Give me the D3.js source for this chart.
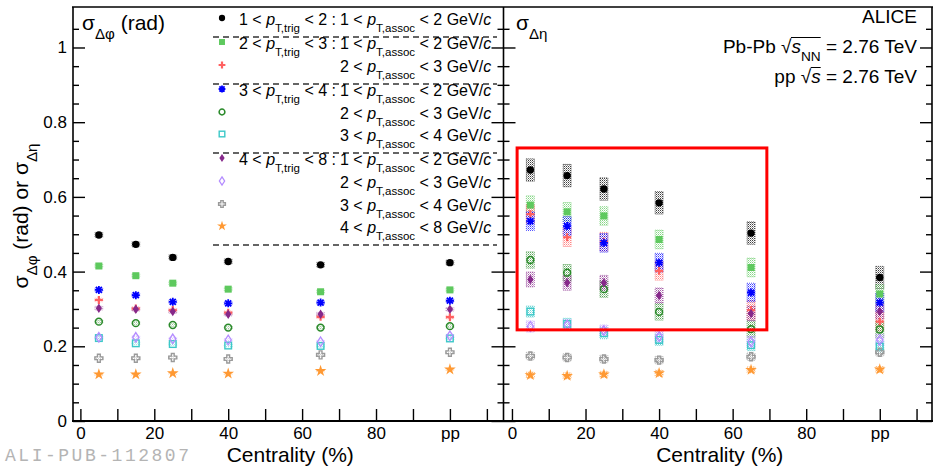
<!DOCTYPE html>
<html>
<head>
<meta charset="utf-8">
<script src="https://cdn.jsdelivr.net/npm/d3@7"></script>
<style>
  body { margin: 0; background: #fff; }
  svg { display: block; }
  text { font-family: "Liberation Sans", Arial, Helvetica, sans-serif; white-space: pre; }
</style>
</head>
<body>
<svg id="chart" width="933" height="467"></svg>
<script>
// ---- data -------------------------------------------------------------
// centrality bin centres (%); the pp reference is placed at 100
const centrality = [5, 15, 25, 40, 65, 100];
const xTickValues = [0, 10, 20, 30, 40, 50, 60, 70, 80, 90, 100, 110];
const xTickLabels = { 0: "0", 20: "20", 40: "40", 60: "60", 80: "80", 100: "pp" };
const yTickValues = [0, 0.2, 0.4, 0.6, 0.8, 1];
const yTickLabels = ["0", "0.2", "0.4", "0.6", "0.8", "1"];

// pT bins (GeV/c) of each series, in legend order
const trigBins  = [[1, 2], [2, 3], [2, 3], [3, 4], [3, 4], [3, 4], [4, 8], [4, 8], [4, 8], [4, 8]];
const assocBins = [[1, 2], [1, 2], [2, 3], [1, 2], [2, 3], [3, 4], [1, 2], [2, 3], [3, 4], [4, 8]];

// sigma_dphi (rad), one row per series, columns follow `centrality`
const sigmaDphi = [
  [0.498, 0.473, 0.438, 0.427, 0.418, 0.424],
  [0.415, 0.389, 0.369, 0.353, 0.346, 0.351],
  [0.324, 0.301, 0.297, 0.290, 0.279, 0.278],
  [0.351, 0.337, 0.319, 0.315, 0.317, 0.322],
  [0.266, 0.262, 0.257, 0.250, 0.250, 0.254],
  [0.222, 0.208, 0.206, 0.202, 0.201, 0.221],
  [0.302, 0.299, 0.293, 0.286, 0.286, 0.299],
  [0.224, 0.224, 0.220, 0.217, 0.212, 0.228],
  [0.168, 0.168, 0.170, 0.166, 0.177, 0.184],
  [0.125, 0.125, 0.128, 0.127, 0.134, 0.138]
];
// sigma_deta
const sigmaDeta = [
  [0.672, 0.657, 0.621, 0.584, 0.503, 0.384],
  [0.578, 0.560, 0.549, 0.486, 0.411, 0.340],
  [0.554, 0.492, 0.480, 0.402, 0.297, 0.266],
  [0.535, 0.522, 0.477, 0.424, 0.344, 0.317],
  [0.431, 0.397, 0.353, 0.292, 0.246, 0.245],
  [0.293, 0.260, 0.235, 0.217, 0.203, 0.199],
  [0.379, 0.370, 0.370, 0.336, 0.288, 0.293],
  [0.253, 0.257, 0.242, 0.226, 0.212, 0.217],
  [0.174, 0.170, 0.166, 0.163, 0.172, 0.184],
  [0.123, 0.121, 0.125, 0.128, 0.137, 0.138]
];
// systematic uncertainty (half height) per series
const sysDphi = [0.007, 0.005, 0.005, 0.005, 0.004, 0.004, 0.005, 0.004, 0.004, 0.003];
const sysDeta = [0.030, 0.025, 0.025, 0.025, 0.022, 0.015, 0.020, 0.015, 0.010, 0.008];

// highlighted region of the sigma_deta panel (centrality %, sigma)
const highlight = { x0: 1.4, x1: 69.3, y0: 0.244, y1: 0.731 };

// ---- styles -----------------------------------------------------------
const markerShapes = ["circleFull", "squareFull", "plus", "asterisk", "circleOpen",
                      "squareOpen", "diamondFull", "diamondOpen", "crossOpen", "starFull"];
const markerColors = ["#000000", "#5ec95e", "#ff6060", "#0000ff", "#2a8a2a",
                      "#3cc8c8", "#86288a", "#b48cff", "#9a9a9a", "#ff9933"];

const svg = d3.select("#chart");
const defs = svg.append("defs");
const FRAME_TOP = 7, FRAME_BOT = 421;

const y = d3.scaleLinear().domain([0, 1.1084]).range([FRAME_BOT, FRAME_TOP]);

const panels = [
  { x0: 73, x1: 503.5, domain: [-2, 114.5], values: sigmaDphi, sys: sysDphi },
  { x0: 503.5, x1: 932, domain: [-2.3, 114.2], values: sigmaDeta, sys: sysDeta }
];
panels.forEach(p => { p.x = d3.scaleLinear().domain(p.domain).range([p.x0, p.x1]); });

// dotted fill patterns for the systematic boxes
markerColors.forEach((c, i) => {
  const pat = defs.append("pattern").attr("id", "dots" + i)
    .attr("patternUnits", "userSpaceOnUse").attr("width", 2).attr("height", 2);
  pat.append("rect").attr("width", 1).attr("height", 1).attr("fill", c);
  pat.append("rect").attr("x", 1).attr("y", 1).attr("width", 1).attr("height", 1).attr("fill", c).attr("opacity", 0.5);
});

// ---- helpers ----------------------------------------------------------
function richText(g, x, yb, segs, size, anchor) {
  const t = g.append("text").attr("x", x).attr("y", yb)
    .attr("font-size", size).attr("text-anchor", anchor || "start").attr("fill", "#000");
  let shift = 0;
  segs.forEach(([s, k]) => {
    const ts = t.append("tspan").text(s);
    let target = 0;
    if (k === "sub") { target = size * 0.42; ts.attr("font-size", size * 0.72); }
    if (k === "i") ts.attr("font-style", "italic");
    if (target !== shift) { ts.attr("dy", target - shift); shift = target; }
  });
  return t;
}

function marker(g, shape, color, cx, cy, s) {
  const m = g.append("g").attr("transform", `translate(${cx},${cy})`);
  const r = 4 * s;
  switch (shape) {
    case "circleFull":
      m.append("circle").attr("r", 3.7 * s).attr("fill", color); break;
    case "circleOpen":
      m.append("circle").attr("r", 3.4 * s).attr("fill", "none").attr("stroke", color).attr("stroke-width", 1.5); break;
    case "squareFull":
      m.append("rect").attr("x", -3.5 * s).attr("y", -3.5 * s).attr("width", 7 * s).attr("height", 7 * s).attr("fill", color); break;
    case "squareOpen":
      m.append("rect").attr("x", -3.3 * s).attr("y", -3.3 * s).attr("width", 6.6 * s).attr("height", 6.6 * s)
        .attr("fill", "none").attr("stroke", color).attr("stroke-width", 1.4); break;
    case "plus":
      m.append("path").attr("d", `M${-r},0H${r}M0,${-r}V${r}`).attr("stroke", color).attr("stroke-width", 2.2); break;
    case "asterisk": {
      const d = r * 0.75;
      m.append("path").attr("d", `M${-r},0H${r}M0,${-r}V${r}M${-d},${-d}L${d},${d}M${-d},${d}L${d},${-d}`)
        .attr("stroke", color).attr("stroke-width", 1.8); break;
    }
    case "diamondFull":
      m.append("path").attr("d", `M0,${-4.8 * s}L${3.1 * s},0L0,${4.8 * s}L${-3.1 * s},0Z`).attr("fill", color); break;
    case "diamondOpen":
      m.append("path").attr("d", `M0,${-4.8 * s}L${3.1 * s},0L0,${4.8 * s}L${-3.1 * s},0Z`)
        .attr("fill", "none").attr("stroke", color).attr("stroke-width", 1.3); break;
    case "crossOpen": {
      const a = 1.4 * s, b = 4 * s;
      m.append("path").attr("d", `M${-a},${-b}H${a}V${-a}H${b}V${a}H${a}V${b}H${-a}V${a}H${-b}V${-a}H${-a}Z`)
        .attr("fill", "none").attr("stroke", color).attr("stroke-width", 1.4); break;
    }
    case "starFull":
      m.append("path").attr("d", d3.symbol(d3.symbolStar, 42 * s * s)()).attr("fill", color); break;
  }
}

// ---- panels -----------------------------------------------------------
const minorY = d3.range(0.05, 1.06, 0.05).filter(v => Math.abs(v * 5 - Math.round(v * 5)) > 1e-6);

panels.forEach((p, pi) => {
  const g = svg.append("g");

  // systematic boxes
  p.values.forEach((row, si) => {
    row.forEach((v, ci) => {
      const cx = p.x(centrality[ci]);
      g.append("rect")
        .attr("x", cx - 4).attr("width", 8)
        .attr("y", y(v + p.sys[si])).attr("height", y(v - p.sys[si]) - y(v + p.sys[si]))
        .attr("fill", `url(#dots${si})`).attr("opacity", pi === 0 ? 0.45 : 0.75)
        .attr("stroke", markerColors[si]).attr("stroke-width", 0.8).attr("stroke-dasharray", "1,1");
    });
  });

  // data points
  p.values.forEach((row, si) => {
    row.forEach((v, ci) => marker(g, markerShapes[si], markerColors[si], p.x(centrality[ci]), y(v), 1));
  });

  // x axis (ticks pointing inwards)
  const xa = svg.append("g").attr("transform", `translate(0,${FRAME_BOT})`)
    .call(d3.axisBottom(p.x).tickValues(xTickValues).tickSizeInner(-12).tickSizeOuter(0)
      .tickPadding(6).tickFormat(d => xTickLabels[d] || ""));
  xa.select(".domain").remove();
  xa.selectAll(".tick line").attr("stroke", "#000").attr("stroke-width", 1.4);
  xa.selectAll(".tick text").attr("font-size", 17).attr("fill", "#000");

  // left y axis
  const yl = svg.append("g").attr("transform", `translate(${p.x0},0)`)
    .call(d3.axisLeft(y).tickValues(yTickValues).tickSizeInner(-12).tickSizeOuter(0).tickPadding(6)
      .tickFormat((d, i) => pi === 0 ? yTickLabels[i] : ""));
  yl.select(".domain").remove();
  yl.selectAll(".tick line").attr("stroke", "#000").attr("stroke-width", 1.4);
  yl.selectAll(".tick text").attr("font-size", 17).attr("fill", "#000");
  const ylm = svg.append("g").attr("transform", `translate(${p.x0},0)`)
    .call(d3.axisLeft(y).tickValues(minorY).tickSizeInner(-6).tickSizeOuter(0).tickFormat(""));
  ylm.select(".domain").remove();
  ylm.selectAll(".tick line").attr("stroke", "#000").attr("stroke-width", 1.4);

  // right y axis (ticks only)
  const yr = svg.append("g").attr("transform", `translate(${p.x1},0)`)
    .call(d3.axisRight(y).tickValues(yTickValues).tickSizeInner(-12).tickSizeOuter(0).tickFormat(""));
  yr.select(".domain").remove();
  yr.selectAll(".tick line").attr("stroke", "#000").attr("stroke-width", 1.4);
  const yrm = svg.append("g").attr("transform", `translate(${p.x1},0)`)
    .call(d3.axisRight(y).tickValues(minorY).tickSizeInner(-6).tickSizeOuter(0).tickFormat(""));
  yrm.select(".domain").remove();
  yrm.selectAll(".tick line").attr("stroke", "#000").attr("stroke-width", 1.4);

  // axis title
  richText(svg, (p.x0 + p.x1) / 2 + 2, 462, [["Centrality (%)", "n"]], 21, "middle");
});

// frame
const frame = svg.append("g").attr("fill", "none").attr("stroke", "#000").attr("stroke-width", 1.6);
frame.append("line").attr("x1", 72).attr("x2", 933).attr("y1", FRAME_BOT).attr("y2", FRAME_BOT).attr("stroke-width", 2);
frame.append("line").attr("x1", 72).attr("x2", 933).attr("y1", FRAME_TOP).attr("y2", FRAME_TOP);
[73, 503.5, 932].forEach(xv => frame.append("line").attr("x1", xv).attr("x2", xv).attr("y1", FRAME_TOP).attr("y2", FRAME_BOT));

// highlighted region
const pr = panels[1];
svg.append("rect")
  .attr("x", pr.x(highlight.x0)).attr("y", y(highlight.y1))
  .attr("width", pr.x(highlight.x1) - pr.x(highlight.x0))
  .attr("height", y(highlight.y0) - y(highlight.y1))
  .attr("fill", "none").attr("stroke", "#ff0000").attr("stroke-width", 3);

// panel labels
richText(svg, 82, 30, [["σ", "n"], ["Δφ", "sub"], [" (rad)", "n"]], 21);
richText(svg, 516, 30, [["σ", "n"], ["Δη", "sub"]], 21);

// y axis title
richText(svg.append("g").attr("transform", "translate(28,216) rotate(-90)"), 0, 0,
  [["σ", "n"], ["Δφ", "sub"], [" (rad) or ", "n"], ["σ", "n"], ["Δη", "sub"]], 21, "middle");

// collision system labels
richText(svg, 917, 23, [["ALICE", "n"]], 19, "end");
const pbpb = richText(svg, 917, 53, [["Pb-Pb ", "n"], ["√", "n"], ["s", "i"], ["NN", "sub"], [" = 2.76 TeV", "n"]], 19, "end");
const ppT = richText(svg, 917, 83, [["pp ", "n"], ["√", "n"], ["s", "i"], [" = 2.76 TeV", "n"]], 19, "end");
function rootBar(t, iRoot, iLast) {
  const node = t.node();
  const a = node.getExtentOfChar(iRoot), b = node.getExtentOfChar(iLast);
  svg.append("line").attr("x1", a.x + a.width - 0.5).attr("x2", b.x + b.width)
    .attr("y1", a.y + 1.5).attr("y2", a.y + 1.5).attr("stroke", "#000").attr("stroke-width", 1);
}
rootBar(pbpb, 6, 9);
rootBar(ppT, 3, 4);

// legend
const legendRowY = [25, 49, 72, 96, 119, 141, 165, 188, 211, 233];
const lg = svg.append("g");
trigBins.forEach((tb, i) => {
  const yb = legendRowY[i];
  marker(lg, markerShapes[i], markerColors[i], 222, yb - 7, 0.85);
  const firstOfGroup = i === 0 || trigBins[i - 1][0] !== tb[0];
  if (firstOfGroup) {
    richText(lg, 239, yb, [[`${tb[0]} < `, "n"], ["p", "i"], ["T,trig", "sub"], [` < ${tb[1]} :`, "n"]], 16);
  }
  richText(lg, 340, yb, [[`${assocBins[i][0]} < `, "n"], ["p", "i"], ["T,assoc", "sub"],
    [` < ${assocBins[i][1]} GeV/`, "n"], ["c", "i"]], 16);
  const lastOfGroup = i === trigBins.length - 1 || trigBins[i + 1][0] !== tb[0];
  if (lastOfGroup) {
    lg.append("line").attr("x1", 213).attr("x2", 497).attr("y1", yb + 12).attr("y2", yb + 12)
      .attr("stroke", "#333").attr("stroke-width", 1.3).attr("stroke-dasharray", "6,4");
  }
});

// publication id
svg.append("text").attr("x", 5).attr("y", 461).attr("font-size", 18)
  .style("font-family", "'Liberation Mono', 'DejaVu Sans Mono', monospace")
  .attr("textLength", 184).attr("lengthAdjust", "spacing")
  .attr("fill", "#b4b4b4").text("ALI-PUB-112807");
</script>
</body>
</html>
